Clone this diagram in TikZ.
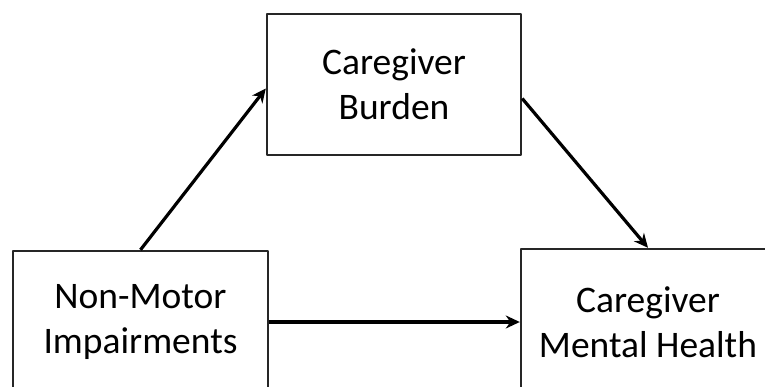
\documentclass[tikz,border=0pt]{standalone}
\usepackage{fontspec}
\setmainfont{Carlito}
\usetikzlibrary{arrows.meta}
\begin{document}
\begin{tikzpicture}[x=1pt,y=-1pt,line join=round,>={Stealth[length=14pt,width=13pt]},
	box/.style={draw=black!85,line width=2.4pt,align=center,inner sep=0pt,
		font=\fontsize{37.5}{45}\selectfont},
	link/.style={->,line width=3.2pt}]
	
	\useasboundingbox (0,0) rectangle (765,387);
	\clip (0,0) rectangle (765,387);
	\node[box,minimum width=254pt,minimum height=141pt] (cb) at (394,84.5) {Caregiver\\Burden};
	\node[box,minimum width=255pt,minimum height=142pt] (nmi) at (140.5,322) {Non-Motor\\Impairments};
	\node[box,minimum width=254pt,minimum height=146pt] (cmh) at (648,322) {Caregiver\\Mental Health};
	
	\draw[link] (nmi.north)--([yshift=-4pt]cb.west);
	\draw[link] ([yshift=-14pt]cb.east)--(cmh.north);
	\draw[link] (nmi.east)--(cmh.west);
\end{tikzpicture}
\end{document}
